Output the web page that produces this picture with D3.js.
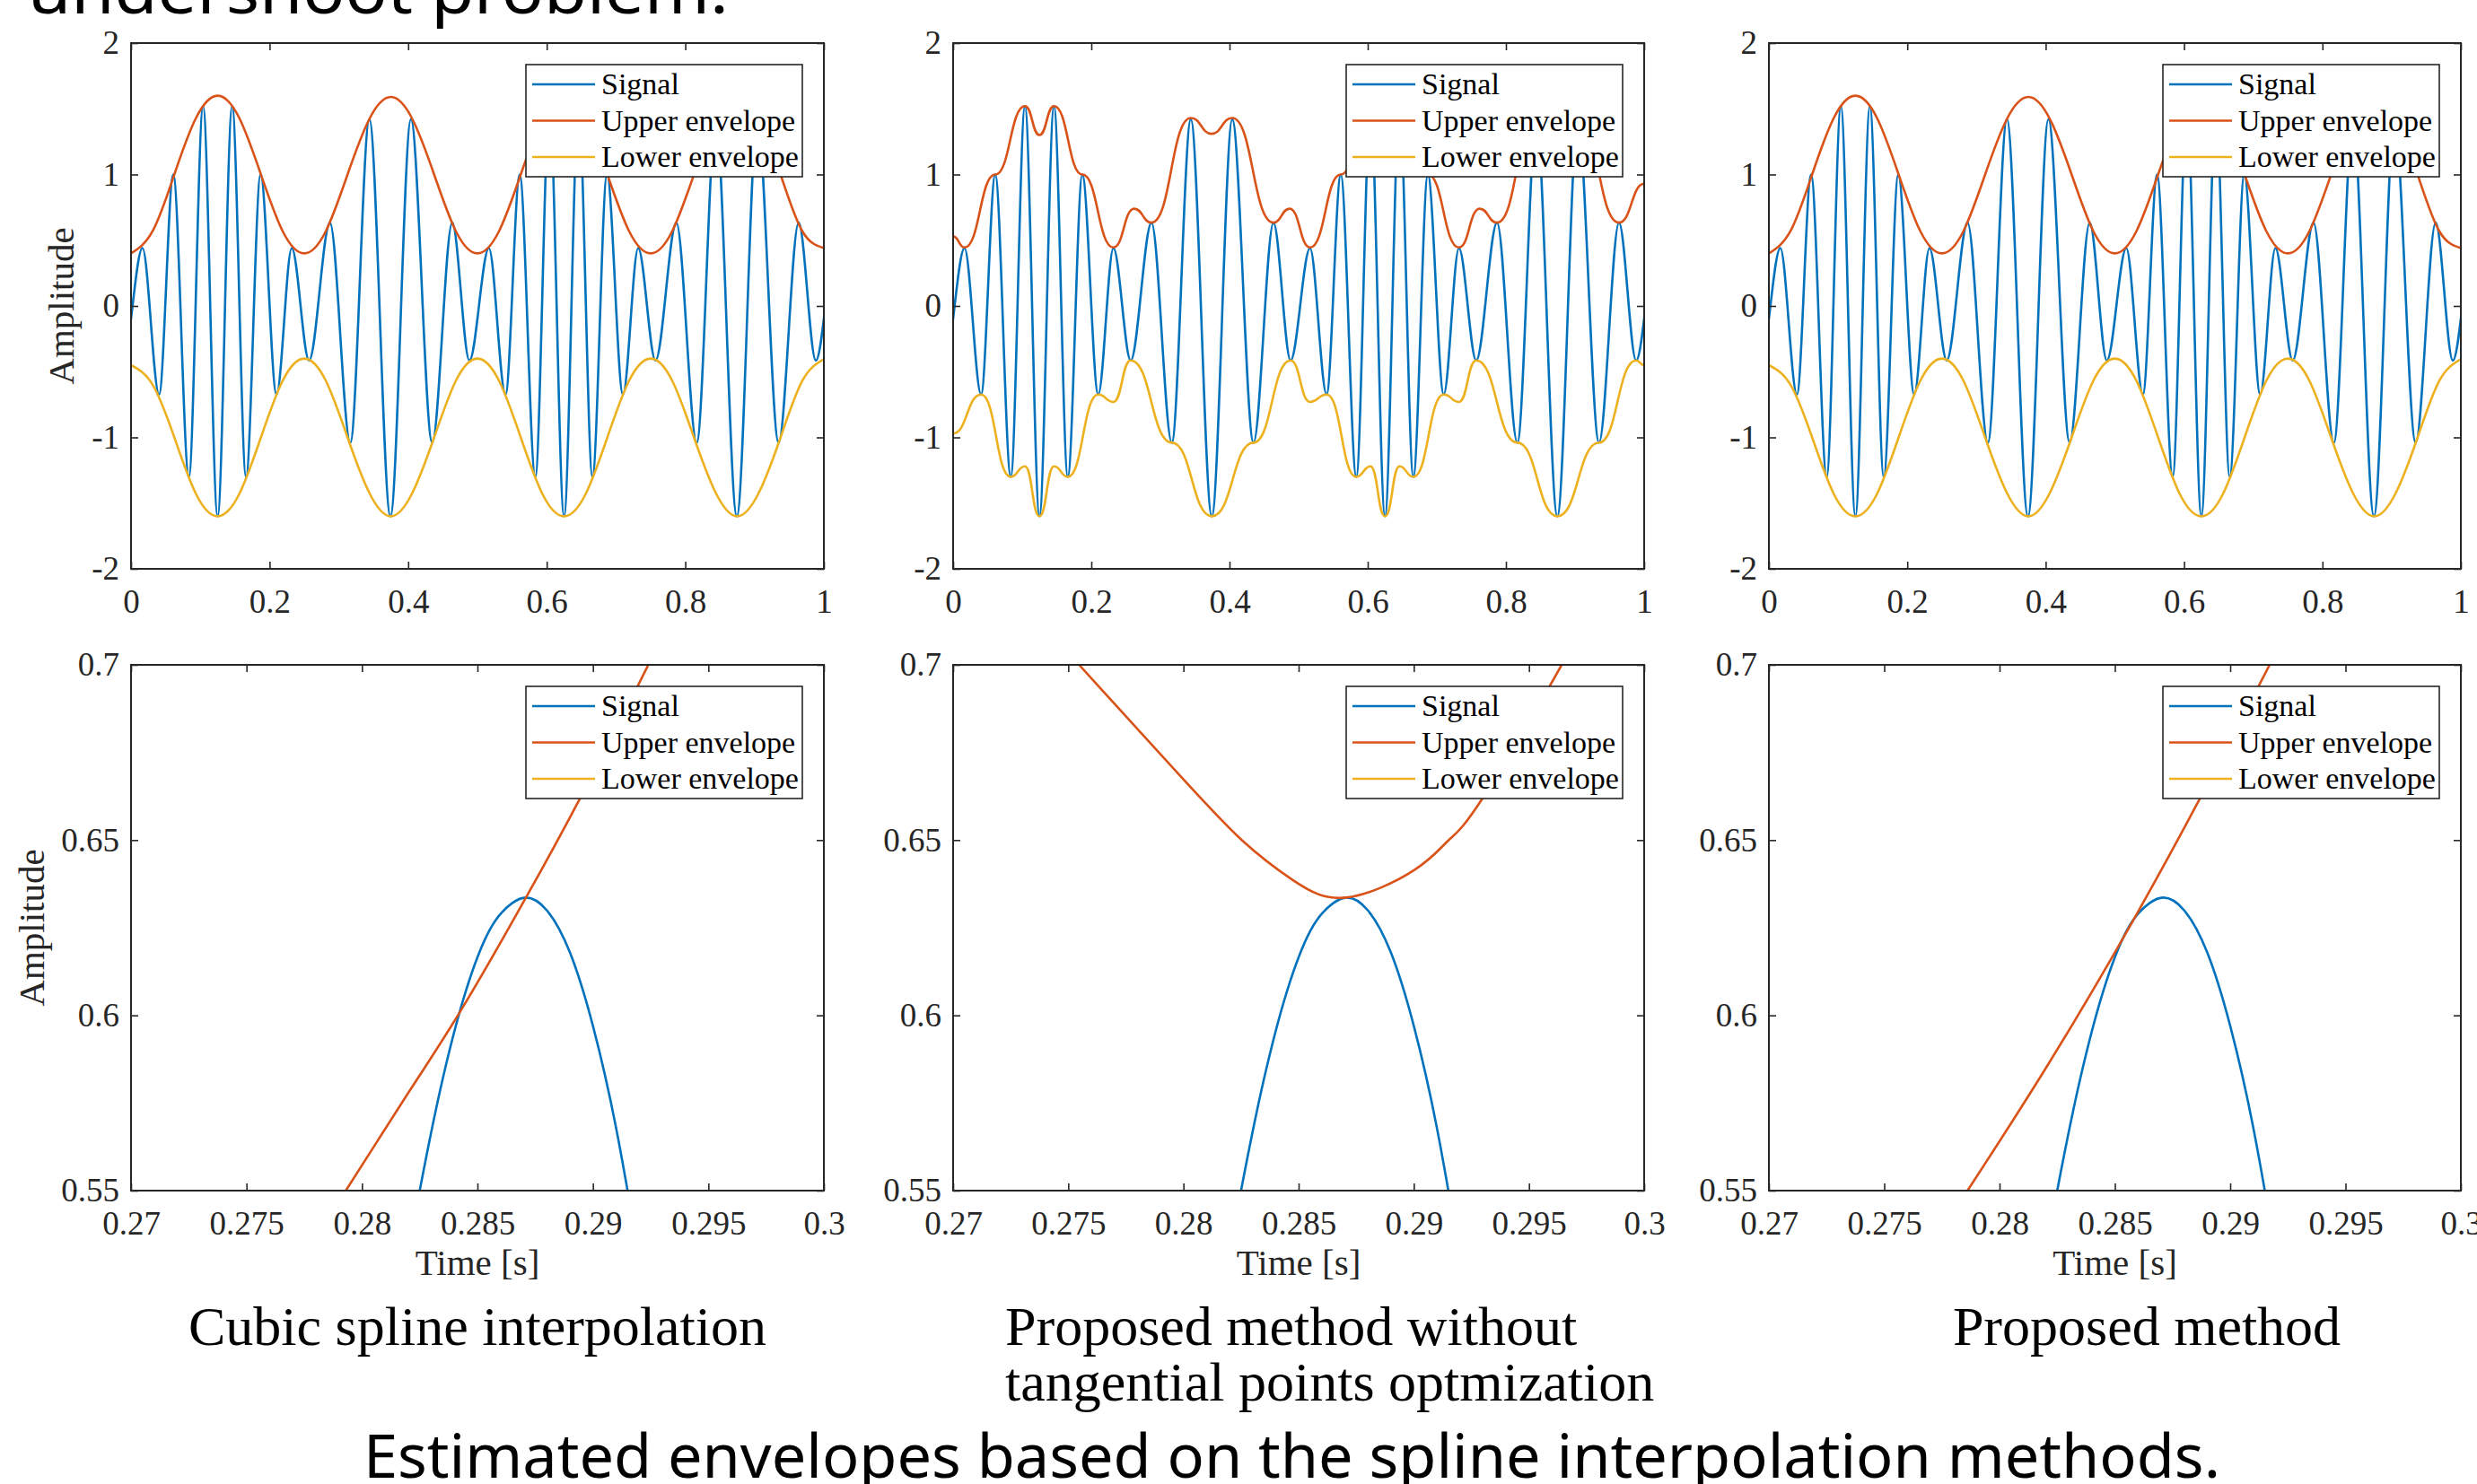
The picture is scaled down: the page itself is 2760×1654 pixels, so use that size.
<!DOCTYPE html>
<html><head><meta charset="utf-8">
<script src="https://cdn.jsdelivr.net/npm/d3@7"></script>
<style>body{margin:0;background:#fff;} svg{display:block;}</style>
</head><body>
<svg id="chart" width="2760" height="1654"></svg>
<script>
// ---------------- data ----------------
const legendLabels = ["Signal", "Upper envelope", "Lower envelope"];
const seriesColors = ["#0072BD", "#D95319", "#EDB120"];

const topXTicks = [0, 0.2, 0.4, 0.6, 0.8, 1];
const topXLabels = ["0", "0.2", "0.4", "0.6", "0.8", "1"];
const topYTicks = [-2, -1, 0, 1, 2];
const topYLabels = ["-2", "-1", "0", "1", "2"];
const detailXTicks = [0.27, 0.275, 0.28, 0.285, 0.29, 0.295, 0.3];
const detailXLabels = ["0.27", "0.275", "0.28", "0.285", "0.29", "0.295", "0.3"];
const detailYTicks = [0.55, 0.6, 0.65, 0.7];
const detailYLabels = ["0.55", "0.6", "0.65", "0.7"];

const subtitles = ["Cubic spline interpolation", "Proposed method without", "tangential points optmization", "Proposed method"];
const caption = "Estimated envelopes based on the spline interpolation methods.";
const topCut = "undershoot problem.";
const yTitle = "Amplitude";
const xTitle = "Time [s]";

// signal extrema (time, amplitude)
const signalT = [-0.0364, -0.0116, 0.0165, 0.0405, 0.061, 0.0835, 0.104, 0.125, 0.146, 0.166, 0.187, 0.21, 0.232, 0.257, 0.2871, 0.3165, 0.344, 0.3744, 0.404, 0.4347, 0.4636, 0.4884, 0.5165, 0.5405, 0.561, 0.5835, 0.604, 0.625, 0.646, 0.666, 0.687, 0.71, 0.732, 0.757, 0.7871, 0.8165, 0.844, 0.8744, 0.904, 0.9347, 0.9636, 0.9884, 1.0165, 1.0405];
const signalV = [0.634, -0.415, 0.44, -0.674, 1.0, -1.30, 1.52, -1.60, 1.52, -1.30, 1.0, -0.674, 0.44, -0.415, 0.634, -1.04, 1.42, -1.60, 1.42, -1.04, 0.634, -0.415, 0.44, -0.674, 1.0, -1.30, 1.52, -1.60, 1.52, -1.30, 1.0, -0.674, 0.44, -0.415, 0.634, -1.04, 1.42, -1.60, 1.42, -1.04, 0.634, -0.415, 0.44, -0.674];

// smooth envelopes (cubic spline / proposed method, full view)
const envT = [0, 0.03125, 0.0625, 0.09375, 0.125, 0.15625, 0.1875, 0.21875, 0.25, 0.28125, 0.3125, 0.34375, 0.375, 0.40625, 0.4375, 0.46875, 0.5, 0.53125, 0.5625, 0.59375, 0.625, 0.65625, 0.6875, 0.71875, 0.75, 0.78125, 0.8125, 0.84375, 0.875, 0.90625, 0.9375, 0.96875, 1];
const upperSmooth = [0.40, 0.57, 1.0, 1.43, 1.60, 1.43, 1.0, 0.57, 0.40, 0.57, 1.0, 1.42, 1.59, 1.42, 1.0, 0.57, 0.40, 0.57, 1.0, 1.43, 1.60, 1.43, 1.0, 0.57, 0.40, 0.57, 1.0, 1.42, 1.59, 1.42, 1.0, 0.57, 0.44];
const lowerSmooth = [-0.45, -0.60, -1.0, -1.43, -1.60, -1.43, -1.0, -0.57, -0.40, -0.57, -1.0, -1.42, -1.60, -1.42, -1.0, -0.57, -0.40, -0.57, -1.0, -1.43, -1.60, -1.43, -1.0, -0.57, -0.40, -0.57, -1.0, -1.42, -1.60, -1.42, -1.0, -0.57, -0.405];

// envelopes of the method without tangential point optimization (knots)
const upperKnotT = [0, 0.0165, 0.061, 0.104, 0.125, 0.146, 0.187, 0.232, 0.262, 0.2871, 0.344, 0.374, 0.404, 0.4636, 0.487, 0.5165, 0.561, 0.604, 0.625, 0.646, 0.687, 0.732, 0.762, 0.7871, 0.844, 0.874, 0.904, 0.9636, 1.0];
const upperKnotV = [0.53, 0.445, 1.0, 1.52, 1.30, 1.52, 1.0, 0.445, 0.74, 0.634, 1.43, 1.31, 1.43, 0.634, 0.74, 0.445, 1.0, 1.52, 1.30, 1.52, 1.0, 0.445, 0.74, 0.634, 1.43, 1.31, 1.43, 0.634, 0.93];
const lowerKnotT = [0, 0.0405, 0.0835, 0.104, 0.125, 0.146, 0.166, 0.21, 0.232, 0.257, 0.3165, 0.3744, 0.4347, 0.4884, 0.5165, 0.5405, 0.5835, 0.604, 0.625, 0.646, 0.666, 0.71, 0.732, 0.757, 0.8165, 0.8744, 0.9347, 0.9884, 1.0];
const lowerKnotV = [-0.97, -0.674, -1.30, -1.22, -1.60, -1.22, -1.30, -0.674, -0.73, -0.415, -1.04, -1.60, -1.04, -0.415, -0.73, -0.674, -1.30, -1.22, -1.60, -1.22, -1.30, -0.674, -0.73, -0.415, -1.04, -1.60, -1.04, -0.415, -0.45];

// detail view (0.27 - 0.3 s)
const detailSignalT = [0.2815, 0.2825, 0.2835, 0.2845, 0.2855, 0.2865, 0.2871, 0.2880, 0.2890, 0.2900, 0.2910, 0.2915, 0.2925];
const detailSignalV = [0.513, 0.550, 0.582, 0.607, 0.624, 0.632, 0.6336, 0.630, 0.618, 0.597, 0.568, 0.550, 0.509];
const detailSplineT = [0.2770, 0.2793, 0.2818, 0.2843, 0.2871, 0.2894, 0.2924, 0.2950];
const detailSplineV = [0.527, 0.550, 0.5758, 0.6016, 0.6336, 0.6614, 0.700, 0.735];
const detailNoOptT = [0.2740, 0.27547, 0.27982, 0.28255, 0.28479, 0.28707, 0.29001, 0.2915, 0.29299, 0.29642, 0.2980];
const detailNoOptV = [0.711, 0.700, 0.6686, 0.6499, 0.6384, 0.6336, 0.6414, 0.6499, 0.662, 0.700, 0.720];
const detailProposedT = [0.2765, 0.27861, 0.2822, 0.2857, 0.2887, 0.29171, 0.2935];
const detailProposedV = [0.529, 0.550, 0.587, 0.626, 0.662, 0.700, 0.723];

// ---------------- drawing ----------------
const zip = (ts, vs) => ts.map((t, i) => [t, vs[i]]);
const svg = d3.select("#chart");
const AX = "#262626";
const SERIF = "'Liberation Serif', 'Times New Roman', serif";
const SANS = "'Noto Sans', 'Open Sans', sans-serif";

const cols = [[146, 918], [1062, 1832], [1971, 2742]];
const rows = [[48, 634], [741, 1327]];

const panels = [];
// top row
[
  {up: [zip(envT, upperSmooth), d3.curveNatural], lo: [zip(envT, lowerSmooth), d3.curveNatural]},
  {up: [zip(upperKnotT, upperKnotV), d3.curveBumpX], lo: [zip(lowerKnotT, lowerKnotV), d3.curveBumpX]},
  {up: [zip(envT, upperSmooth), d3.curveNatural], lo: [zip(envT, lowerSmooth), d3.curveNatural]}
].forEach((e, c) => panels.push({
  col: c, row: 0, xd: [0, 1], yd: [-2, 2],
  xt: topXTicks, xl: topXLabels, yt: topYTicks, yl: topYLabels,
  sig: [zip(signalT, signalV), d3.curveMonotoneX], up: e.up, lo: e.lo,
  ylab: c === 0 ? 82 : null
}));
// bottom row
[
  [zip(detailSplineT, detailSplineV), d3.curveNatural],
  [zip(detailNoOptT, detailNoOptV), d3.curveNatural],
  [zip(detailProposedT, detailProposedV), d3.curveNatural]
].forEach((u, c) => panels.push({
  col: c, row: 1, xd: [0.27, 0.3], yd: [0.55, 0.7],
  xt: detailXTicks, xl: detailXLabels, yt: detailYTicks, yl: detailYLabels,
  sig: [zip(detailSignalT, detailSignalV), d3.curveMonotoneX], up: u, lo: null,
  ylab: c === 0 ? 49 : null, xlab: true
}));

panels.forEach((p, idx) => {
  const [x0, x1] = cols[p.col];
  const [y0, y1] = rows[p.row];
  const x = d3.scaleLinear().domain(p.xd).range([x0, x1]);
  const y = d3.scaleLinear().domain(p.yd).range([y1, y0]);
  const g = svg.append("g");
  const cid = "clip" + idx;
  svg.append("clipPath").attr("id", cid).append("rect")
    .attr("x", x0).attr("y", y0).attr("width", x1 - x0).attr("height", y1 - y0);

  const plot = g.append("g").attr("clip-path", `url(#${cid})`);
  const series = [p.sig, p.up, p.lo];
  series.forEach((s, i) => {
    if (!s) return;
    plot.append("path")
      .attr("d", d3.line().x(d => x(d[0])).y(d => y(d[1])).curve(s[1])(s[0]))
      .attr("fill", "none").attr("stroke", seriesColors[i]).attr("stroke-width", 2.6)
      .attr("stroke-linejoin", "round");
  });

  // axes (inward ticks on all four sides)
  const styleAxis = sel => {
    sel.select(".domain").remove();
    sel.selectAll(".tick line").attr("stroke", AX).attr("stroke-width", 1.6);
    sel.selectAll(".tick text").attr("fill", AX);
    sel.attr("font-family", SERIF).attr("font-size", 37);
  };
  g.append("g").attr("transform", `translate(0,${y1})`)
    .call(d3.axisBottom(x).tickValues(p.xt).tickFormat((d, i) => p.xl[i]).tickSize(-8).tickPadding(23))
    .call(styleAxis);
  g.append("g").attr("transform", `translate(0,${y0})`)
    .call(d3.axisTop(x).tickValues(p.xt).tickFormat("").tickSize(-8))
    .call(styleAxis);
  g.append("g").attr("transform", `translate(${x0},0)`)
    .call(d3.axisLeft(y).tickValues(p.yt).tickFormat((d, i) => p.yl[i]).tickSize(-8).tickPadding(13))
    .call(styleAxis);
  g.append("g").attr("transform", `translate(${x1},0)`)
    .call(d3.axisRight(y).tickValues(p.yt).tickFormat("").tickSize(-8))
    .call(styleAxis);
  g.append("rect").attr("x", x0).attr("y", y0).attr("width", x1 - x0).attr("height", y1 - y0)
    .attr("fill", "none").attr("stroke", AX).attr("stroke-width", 2);

  // legend
  const lx = x1 - 332, ly = y0 + 24;
  const lg = g.append("g").attr("transform", `translate(${lx},${ly})`);
  lg.append("rect").attr("width", 308).attr("height", 125).attr("fill", "#fff")
    .attr("stroke", AX).attr("stroke-width", 1.6);
  legendLabels.forEach((lab, i) => {
    const cy = 22 + i * 40.5;
    lg.append("line").attr("x1", 7).attr("x2", 77).attr("y1", cy).attr("y2", cy)
      .attr("stroke", seriesColors[i]).attr("stroke-width", 2.6);
    lg.append("text").attr("x", 84).attr("y", cy + 11).text(lab)
      .attr("font-family", SERIF).attr("font-size", 34).attr("fill", "#000");
  });

  // axis titles
  if (p.ylab !== null) {
    g.append("text").attr("transform", `translate(${p.ylab},${(y0 + y1) / 2}) rotate(-90)`)
      .attr("text-anchor", "middle").attr("font-family", SERIF).attr("font-size", 41)
      .attr("fill", AX).text(yTitle);
  }
  if (p.xlab) {
    g.append("text").attr("x", (x0 + x1) / 2).attr("y", 1421).attr("text-anchor", "middle")
      .attr("font-family", SERIF).attr("font-size", 41).attr("fill", AX).text(xTitle);
  }
});

// subtitles
const subPos = [[532, 1499, "middle"], [1120, 1499, "start"], [1120, 1561, "start"], [2392, 1499, "middle"]];
subtitles.forEach((s, i) => {
  svg.append("text").attr("x", subPos[i][0]).attr("y", subPos[i][1]).attr("text-anchor", subPos[i][2])
    .attr("font-family", SERIF).attr("font-size", 62).attr("fill", "#000").text(s);
});

// caption and clipped heading
svg.append("text").attr("x", 405).attr("y", 1647).attr("font-family", SANS).attr("font-size", 68)
  .attr("textLength", 2069).attr("lengthAdjust", "spacingAndGlyphs").attr("fill", "#000").text(caption);
svg.append("text").attr("x", 31).attr("y", 15).attr("font-family", SANS).attr("font-size", 72)
  .attr("textLength", 781).attr("lengthAdjust", "spacingAndGlyphs").attr("fill", "#000").text(topCut);
</script>
</body></html>
